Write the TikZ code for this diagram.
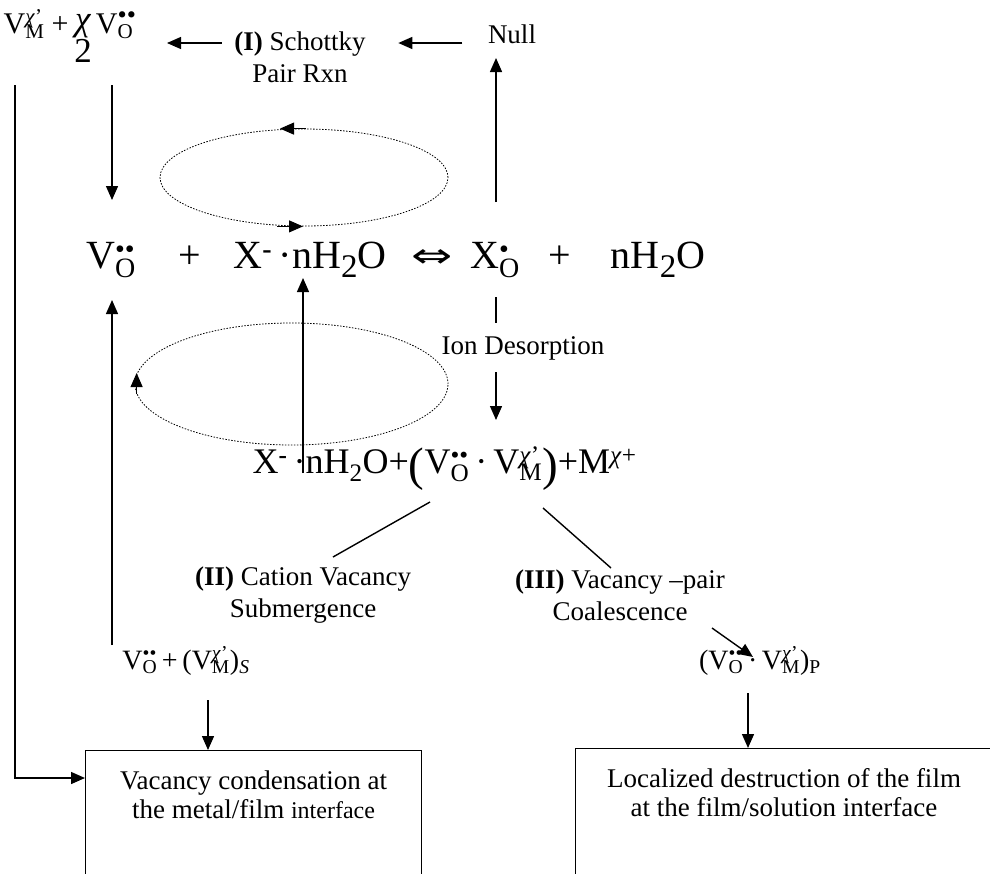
\documentclass[tikz,border=0pt]{standalone}
\usepackage{graphicx}
\usepackage{fontspec}
\setmainfont{Liberation Serif}
\newfontfamily\symfont{DejaVu Sans}
\usetikzlibrary{arrows.meta,shapes.geometric}

% stacked sub- and superscript in text mode
\newcommand{\subsup}[2]{\setbox0\hbox{\textsuperscript{#2}}\setbox2\hbox{\textsubscript{#1}}%
  \ifdim\wd0>\wd2 \rlap{\box2}\box0\else\rlap{\box0}\box2\fi}
\newcommand{\vac}[2]{V\subsup{#1}{#2}}
\newcommand{\chit}{\textit{χ}}
\newcommand{\twodots}{\scalebox{1.25}{••}}
\newcommand{\bigtwo}{\raisebox{-9pt}{\fontsize{33}{33}\selectfont 2}}
\newcommand{\bigp}[1]{\raisebox{-7pt}{\fontsize{47}{47}\selectfont #1}}

\begin{document}
\begin{tikzpicture}[x=1pt, y=-1pt, >={Triangle[length=14pt,width=12pt]}, line width=1.4pt,
    lbl/.style={font=\fontsize{27}{32}\selectfont, align=center, inner sep=0pt},
    boxtxt/.style={font=\fontsize{27}{29}\selectfont, align=center, inner sep=0pt},
    big/.style={font=\fontsize{40}{44}\selectfont, inner sep=0pt},
    small/.style={font=\fontsize{28}{32}\selectfont, inner sep=0pt},
    cycle/.style={draw, ellipse, line width=0.8pt, dash pattern=on 1.5pt off 1.5pt, inner sep=0pt},
    result/.style={draw, line width=1.1pt, inner sep=0pt, anchor=north west}]
\useasboundingbox (0,0) rectangle (990,873);

% Schottky pair reaction
\node[small, font=\fontsize{30}{34}\selectfont, anchor=base west] (pair) at (3,33) {\vac{M}{\chit'}\hspace{7pt}+\hspace{6pt}\raisebox{3pt}{\fontsize{35}{38}\selectfont\begin{tabular}[t]{@{}c@{}}\chit\\[-6pt]2\end{tabular}}\hspace{4pt}\vac{O}{\twodots}};
\node[lbl] (schottky) at (300,57) {\textbf{(I)} Schottky\\Pair Rxn};
\node[lbl, anchor=base] (null) at (512,43) {Null};
\coordinate (pairin) at (167,43);
\draw[->] ([xshift=-25pt]null.base west) -- ([xshift=32pt]schottky.east |- null.base);
\draw[->] ([xshift=-12pt]schottky.west |- null.base) -- (pairin);

% main equilibrium
\node[big, anchor=base] (vo) at (111,268) {\vac{O}{••}};
\node[big, anchor=base] (p1) at (190,268) {+};
\node[big, anchor=base] (xw) at (310,268) {X\textsuperscript{\textbf{-}}\,·nH\bigtwo O};
\node[big, anchor=base] (iff) at (432,267) {\symfont\fontsize{34}{34}\selectfont\scalebox{1.45}[1]{⇔}};
\node[big, anchor=base] (xo) at (495,268) {X\subsup{O}{•}};
\node[big, anchor=base] (p2) at (560,268) {+};
\node[big, anchor=base] (nw) at (658,268) {nH\bigtwo O};

\coordinate (vmfoot) at (15,85);
\coordinate (vofoot) at (112,85);
\coordinate (nullfoot) at (496,202);
\draw[->] (vofoot) -- ++(0,115);
\draw[->] (nullfoot) -- ++(0,-144);

% adsorption cycles
\node[cycle, minimum width=288, minimum height=97] (uploop) at (304,177.5) {};
\node[cycle, minimum width=313, minimum height=122] (lowloop) at (291.5,384) {};
\draw[->, line width=1pt] ([xshift=2pt]uploop.north) -- ([xshift=-24pt]uploop.north);
\draw[->, line width=1pt] ([xshift=-27pt]uploop.south) -- ([xshift=-1pt]uploop.south);
\draw[->, line width=1pt] ([shift={(2pt,-10pt)}]lowloop.west) -- ([shift={(2pt,11pt)}]lowloop.west);

% ion desorption
\coordinate (xofoot) at (496,297);
\coordinate (ionfoot) at (496,372);
\draw (xofoot) -- ++(0,26);
\node[lbl] (ion) at (523,348) {Ion Desorption};
\draw[->] (ionfoot) -- ++(0,48);

\node[big, font=\fontsize{36}{40}\selectfont, anchor=base west] (mix) at (252,473) {X\textsuperscript{\textbf{-}}\,·nH\textsubscript{2}O+\bigp{(}\vac{O}{••}\,·\,\vac{M}{\chit'}\bigp{)}+M\textsuperscript{\chit+}};
\coordinate (mixfoot) at (303,473);
\draw[->] (mixfoot) -- ++(0,-195);

% branches
\coordinate (splitL) at (430,502);
\coordinate (splitR) at (543,508);
\node[lbl] (sub) at (303,595) {\textbf{(II)} Cation Vacancy\\Submergence};
\node[lbl] (coal) at (620,595) {\textbf{(III)} Vacancy --pair\\Coalescence};
\draw (splitL) -- ++(-97,55);
\draw (splitR) -- ++(68,60);

\node[small, anchor=base] (subm) at (186,669) {\vac{O}{••}\,+\,(\vac{M}{\chit'})\textsubscript{\textit{S}}};
\node[small, anchor=base] (coalp) at (760,669) {(\vac{O}{••}\,·\,\vac{M}{\chit'})\textsubscript{P}};
\coordinate (subfoot) at (112,645);
\coordinate (coalfoot) at (712,628);
\draw[->] (subfoot) -- ++(0,-345);
\draw[->] (coalfoot) -- ++(41,29);

% outcomes
\node[result, minimum width=336, minimum height=140] (cond) at (85,750) {};
\node[boxtxt, anchor=north] (condtext) at ([yshift=-20pt]cond.north) {Vacancy condensation at\\the metal/film {\fontsize{24}{29}\selectfont interface}};
\node[result, minimum width=440, minimum height=140] (loc) at (575,748) {};
\node[boxtxt, anchor=north] (loctext) at (784,768) {Localized destruction of the film\\at the film/solution interface};

\coordinate (condin) at (208,700);
\coordinate (locin) at (748,693);
\draw[->] (condin) -- (condin |- cond.north);
\draw[->] (locin) -- (locin |- loc.north);
\draw[->] (vmfoot) |- ([yshift=-28pt]cond.north west);
\end{tikzpicture}
\end{document}
